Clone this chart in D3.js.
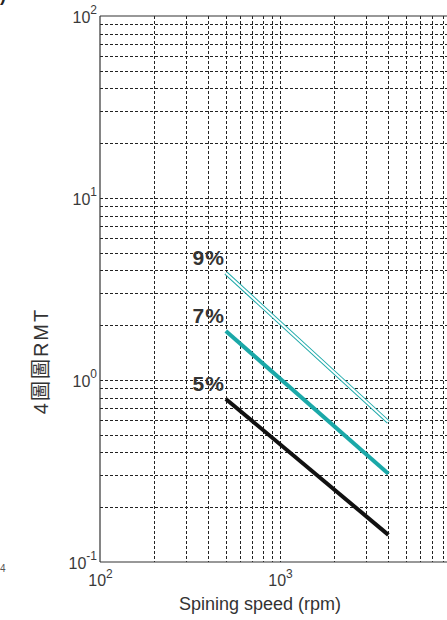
<!DOCTYPE html>
<html>
<head>
<meta charset="utf-8">
<script src="https://cdn.jsdelivr.net/npm/d3@7/dist/d3.min.js"></script>
<style>
  html, body { margin: 0; padding: 0; background: #fff; }
  svg { display: block; font-family: "Liberation Sans", Arial, sans-serif; }
</style>
</head>
<body>
<svg id="chart" width="447" height="620"></svg>
<script>
// Spinning speed (rpm) at the two ends of each curve
const speeds = [500, 4000];
// Curve values for each concentration
const concentrations = ["5%", "7%", "9%"];
const values5 = [0.787, 0.141];
const values7 = [1.86, 0.305];
const values9 = [3.87, 0.587];
// Decade tick exponents
const xExponents = [2, 3, 4];
const yExponents = [-1, 0, 1, 2];

const svg = d3.select("#chart");
const x = d3.scaleLog().domain([100, 10000]).range([100, 460]);
const y = d3.scaleLog().domain([0.1, 100]).range([562, 16]);

// Major and minor grid, dashed
const grid = svg.append("g").attr("stroke", "#222").attr("stroke-width", 1)
  .attr("stroke-dasharray", "3,2");
grid.selectAll("line.v").data(x.ticks().filter(d => d > 100)).join("line")
  .attr("class", "v")
  .attr("x1", d => Math.round(x(d)) + 0.5).attr("x2", d => Math.round(x(d)) + 0.5)
  .attr("y1", y(100)).attr("y2", y(0.1));
grid.selectAll("line.h").data(y.ticks().filter(d => d > 0.1 && d < 100)).join("line")
  .attr("class", "h")
  .attr("y1", d => Math.round(y(d)) + 0.5).attr("y2", d => Math.round(y(d)) + 0.5)
  .attr("x1", x(100)).attr("x2", x(10000));

// Axes: tick labels as 10 with a superscript exponent
const yAxis = d3.axisLeft(y).tickValues(yExponents.map(e => Math.pow(10, e)))
  .tickSize(0).tickPadding(10).tickFormat("");
const gy = svg.append("g").attr("transform", `translate(${x(100)},0)`).call(yAxis);
gy.select(".domain").remove();
gy.selectAll(".tick text").each(function(d) {
  const t = d3.select(this).attr("font-size", 16).attr("fill", "#3a3a3a")
    .attr("font-family", "Liberation Sans, Arial, sans-serif").attr("dy", "0.42em");
  t.append("tspan").text("10");
  t.append("tspan").attr("font-size", 12).attr("dy", "-0.75em").text(Math.round(Math.log10(d)));
});
gy.selectAll(".tick text").attr("x", -3);

const xAxis = d3.axisBottom(x).tickValues(xExponents.map(e => Math.pow(10, e)))
  .tickSize(0).tickPadding(8).tickFormat("");
const gx = svg.append("g").attr("transform", `translate(0,${y(0.1)})`).call(xAxis);
gx.select(".domain").remove();
gx.selectAll(".tick text").each(function(d) {
  const t = d3.select(this).attr("font-size", 16).attr("fill", "#3a3a3a")
    .attr("font-family", "Liberation Sans, Arial, sans-serif").attr("dy", "1.0em");
  t.append("tspan").text("10");
  t.append("tspan").attr("font-size", 12).attr("dy", "-0.7em").text(Math.round(Math.log10(d)));
});

// Plot box
const box = svg.append("g").attr("stroke", "#333").attr("stroke-width", 1.2).attr("fill", "none");
box.append("line").attr("x1", x(100)).attr("x2", x(100)).attr("y1", y(100)).attr("y2", y(0.1));
box.append("line").attr("x1", x(100)).attr("x2", x(10000)).attr("y1", y(100)).attr("y2", y(100));
box.append("line").attr("x1", x(100)).attr("x2", x(10000)).attr("y1", y(0.1)).attr("y2", y(0.1));
box.append("line").attr("x1", x(10000)).attr("x2", x(10000)).attr("y1", y(100)).attr("y2", y(0.1));

// Curves
const line = d3.line().x(d => x(d[0])).y(d => y(d[1]));
const pts = vals => speeds.map((s, i) => [s, vals[i]]);
svg.append("path").attr("d", line(pts(values5))).attr("fill", "none")
  .attr("stroke", "#111").attr("stroke-width", 4);
svg.append("path").attr("d", line(pts(values7))).attr("fill", "none")
  .attr("stroke", "#1aa8a8").attr("stroke-width", 4);
svg.append("path").attr("d", line(pts(values9))).attr("fill", "none")
  .attr("stroke", "#1aa8a8").attr("stroke-width", 4);
svg.append("path").attr("d", line(pts(values9))).attr("fill", "none")
  .attr("stroke", "#fff").attr("stroke-width", 2);

// Curve labels
const starts = [values5[0], values7[0], values9[0]];
svg.selectAll("text.lab").data(concentrations).join("text")
  .attr("class", "lab")
  .attr("x", x(speeds[0]) - 1)
  .attr("y", (d, i) => y(starts[i]) - 8)
  .attr("text-anchor", "end")
  .attr("font-size", 21).attr("font-weight", "bold").attr("fill", "#333")
  .attr("letter-spacing", 1)
  .text(d => d);

// Axis titles
svg.append("text").attr("x", 260).attr("y", 610).attr("text-anchor", "middle")
  .attr("font-size", 18).attr("fill", "#333").text("Spining speed (rpm)");
svg.append("text").attr("transform", "translate(48,361) rotate(-90)")
  .attr("text-anchor", "middle").attr("font-size", 20).attr("fill", "#333")
  .attr("letter-spacing", 2)
  .attr("font-family", "Liberation Sans, Noto Sans CJK SC, sans-serif")
  .text("4圖圖RMT");

// Edge fragments of neighbouring panels
svg.append("text").attr("x", -17).attr("y", 1).attr("font-size", 18)
  .attr("font-weight", "bold").attr("fill", "#222").text("(b)");
svg.append("text").attr("x", 0).attr("y", 572).attr("font-size", 10)
  .attr("fill", "#555").text("4");
</script>
</body>
</html>
